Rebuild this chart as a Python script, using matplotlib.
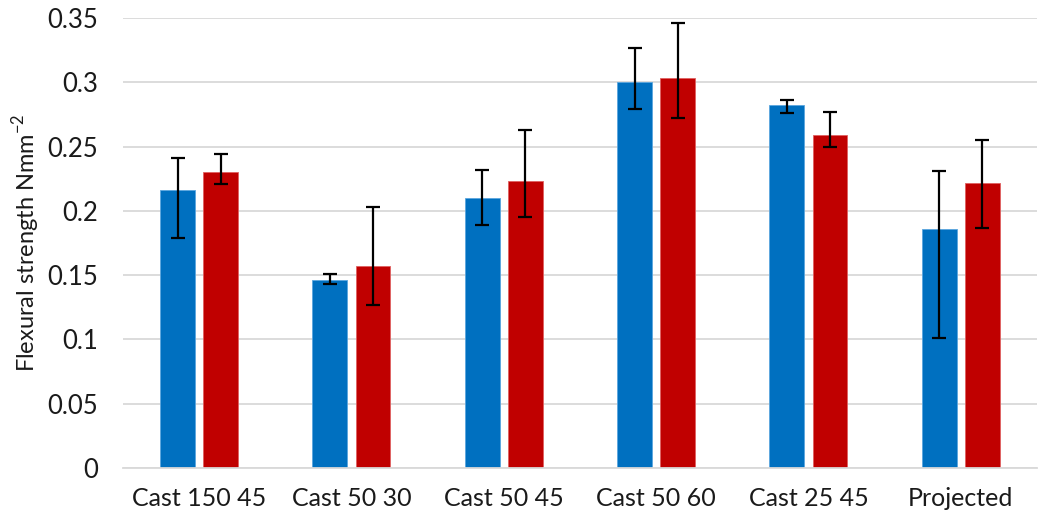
import matplotlib
matplotlib.use("Agg")
import matplotlib.pyplot as plt
import numpy as np

categories = ["Cast 150 45", "Cast 50 30", "Cast 50 45", "Cast 50 60", "Cast 25 45", "Projected"]
blue_vals = [0.216, 0.146, 0.210, 0.300, 0.282, 0.186]
blue_hi = [0.241, 0.151, 0.232, 0.327, 0.2865, 0.231]
blue_lo = [0.179, 0.143, 0.189, 0.279, 0.276, 0.101]
red_vals = [0.230, 0.157, 0.223, 0.303, 0.259, 0.222]
red_hi = [0.244, 0.203, 0.263, 0.346, 0.277, 0.255]
red_lo = [0.221, 0.127, 0.195, 0.272, 0.250, 0.187]
yticks = [0, 0.05, 0.1, 0.15, 0.2, 0.25, 0.3, 0.35]
ytick_labels = ["0", "0.05", "0.1", "0.15", "0.2", "0.25", "0.3", "0.35"]

plt.rcParams['font.family'] = ['Lato', 'DejaVu Sans']

fig = plt.figure(figsize=(10.38, 5.2), dpi=100)
ax = fig.add_axes([0.1185, 0.1, 0.8805, 0.8654])

x = np.arange(len(categories))
w = 0.228
off = 0.142
bv = np.array(blue_vals); rv = np.array(red_vals)
berr = [bv - np.array(blue_lo), np.array(blue_hi) - bv]
rerr = [rv - np.array(red_lo), np.array(red_hi) - rv]

ax.bar(x - off, bv, w, color="#0070C0", edgecolor="#5aa6de", linewidth=0.6, zorder=2)
ax.bar(x + off, rv, w, color="#C00000", edgecolor="#e06060", linewidth=0.6, zorder=2)
ax.errorbar(x - off, bv, yerr=berr, fmt="none", ecolor="black", elinewidth=1.6, capsize=5, capthick=1.6, zorder=3)
ax.errorbar(x + off, rv, yerr=rerr, fmt="none", ecolor="black", elinewidth=1.6, capsize=5, capthick=1.6, zorder=3)

ax.set_xlim(-0.5, len(categories) - 0.5)
ax.set_ylim(0, 0.35)
ax.set_yticks(yticks)
ax.set_yticklabels(ytick_labels)
ax.set_xticks(x)
ax.set_xticklabels(categories)
ax.yaxis.grid(True, color="#d9d9d9", linewidth=1.3, zorder=0)
ax.set_axisbelow(True)
for s in ["top", "right", "left"]:
    ax.spines[s].set_visible(False)
ax.spines["bottom"].set_color("#d9d9d9")
ax.spines["bottom"].set_linewidth(1.3)
ax.tick_params(axis="y", length=0, pad=18, labelsize=18.5, labelcolor="#1a1a1a")
ax.tick_params(axis="x", length=0, pad=14, labelsize=18, labelcolor="#1a1a1a")
ax.set_ylabel("Flexural strength Nmm$^{\\mathregular{-2}}$", fontsize=17, color="#1a1a1a", labelpad=4)

fig.savefig("out.png", dpi=100)
